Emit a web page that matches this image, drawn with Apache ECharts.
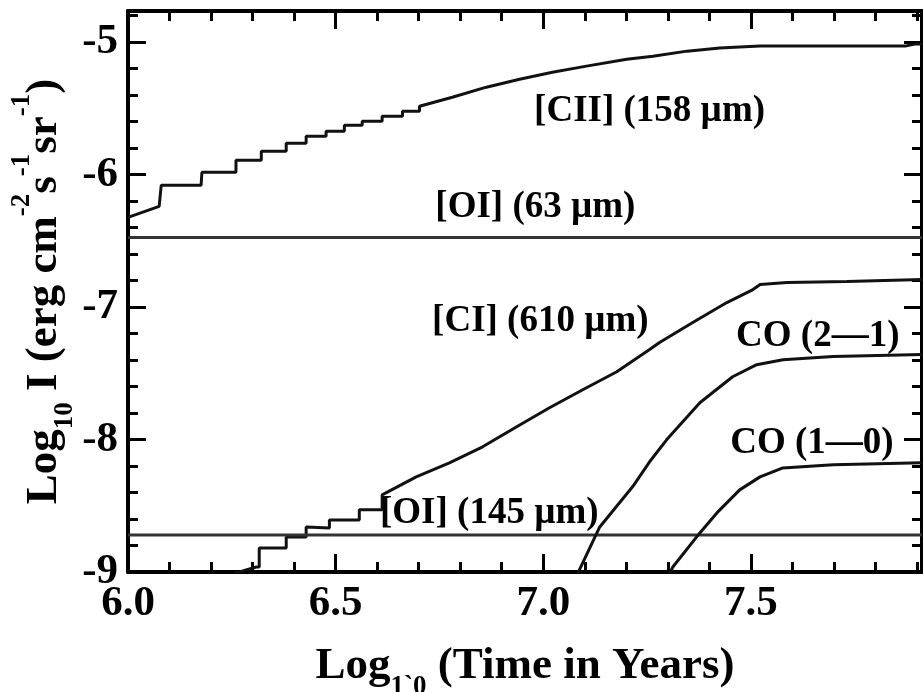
<!DOCTYPE html>
<html>
<head>
<meta charset="utf-8">
<script src="https://cdn.jsdelivr.net/npm/echarts@6/dist/echarts.min.js"></script>
<style>
  html, body { margin: 0; padding: 0; background: #fff; }
  #chart { width: 923px; height: 692px; }
</style>
</head>
<body>
<div id="chart"></div>
<script>
// series names, in drawing order
const lineNames = ['[CII] (158 µm)', '[OI] (63 µm)', '[CI] (610 µm)', '[OI] (145 µm)', 'CO (2—1)', 'CO (1—0)']

// log10 time (years) / log10 intensity
const ciiX = [6.0, 6.075, 6.080, 6.176, 6.178, 6.260, 6.260, 6.321, 6.321, 6.381, 6.381, 6.429, 6.429, 6.477, 6.477, 6.521, 6.521, 6.564, 6.564, 6.612, 6.612, 6.661, 6.661, 6.702, 6.702, 6.781, 6.863, 6.943, 7.022, 7.104, 7.201, 7.264, 7.346, 7.425, 7.522, 7.871, 7.895, 7.912]
const ciiY = [-6.323, -6.240, -6.081, -6.081, -5.983, -5.983, -5.892, -5.892, -5.824, -5.824, -5.764, -5.764, -5.711, -5.711, -5.673, -5.673, -5.628, -5.628, -5.597, -5.597, -5.560, -5.560, -5.522, -5.522, -5.484, -5.416, -5.340, -5.280, -5.227, -5.181, -5.129, -5.106, -5.068, -5.045, -5.030, -5.030, -5.015, -5.015]

const oi63X = [6.0, 7.912]
const oi63Y = [-6.474, -6.474]

const ciX = [6.256, 6.309, 6.316, 6.316, 6.381, 6.381, 6.429, 6.429, 6.485, 6.485, 6.557, 6.557, 6.612, 6.612, 6.694, 6.774, 6.854, 6.936, 7.015, 7.095, 7.177, 7.256, 7.280, 7.360, 7.442, 7.505, 7.522, 7.587, 7.731, 7.912]
const ciY = [-9.01, -8.962, -8.962, -8.819, -8.819, -8.735, -8.735, -8.660, -8.667, -8.607, -8.607, -8.531, -8.531, -8.418, -8.282, -8.176, -8.055, -7.904, -7.760, -7.624, -7.488, -7.321, -7.268, -7.117, -6.966, -6.868, -6.830, -6.815, -6.807, -6.792]

const oi145X = [6.0, 7.912]
const oi145Y = [-8.720, -8.720]

const co21X = [7.083, 7.136, 7.215, 7.256, 7.297, 7.377, 7.456, 7.514, 7.577, 7.698, 7.912]
const co21Y = [-9.01, -8.660, -8.357, -8.168, -8.002, -7.722, -7.526, -7.435, -7.397, -7.374, -7.359]

const co10X = [7.305, 7.312, 7.377, 7.418, 7.473, 7.522, 7.577, 7.698, 7.912]
const co10Y = [-9.01, -8.962, -8.705, -8.554, -8.380, -8.282, -8.214, -8.191, -8.176]

const xTicks = [6.0, 6.5, 7.0, 7.5]
const yTicks = [-9, -8, -7, -6, -5]

const FONT = '"Liberation Serif", "Times New Roman", serif'
const INK = '#000'

const chart = echarts.init(document.getElementById('chart'), null, { renderer: 'canvas', width: 923, height: 692 })

function zip(xs, ys) {
  return xs.map((x, i) => [x, ys[i]])
}

function curve(name, xs, ys, at, color) {
  return {
    name,
    type: 'line',
    data: zip(xs, ys),
    showSymbol: false,
    symbol: 'none',
    animation: false,
    lineStyle: { color: color || '#111', width: 3 },
    markPoint: {
      symbol: 'circle',
      symbolSize: 1,
      itemStyle: { color: 'rgba(0,0,0,0)' },
      label: {
        show: true,
        position: 'inside',
        formatter: name,
        fontFamily: FONT,
        fontWeight: 'bold',
        fontSize: 37,
        color: INK
      },
      data: [{ coord: at }]
    }
  }
}

const tickStyle = { inside: true, length: 18, lineStyle: { color: INK, width: 3 } }
const minorStyle = { show: true, splitNumber: 5, length: 10, lineStyle: { color: INK, width: 3 } }
const lineStyle = { show: true, onZero: false, lineStyle: { color: INK, width: 4 } }
const labelFont = { fontFamily: FONT, fontWeight: 'bold', fontSize: 43, color: INK }

const titleRich = {
  b: { fontFamily: FONT, fontWeight: 'bold', fontSize: 45, lineHeight: 70, color: INK, verticalAlign: 'middle' },
  sub: { fontFamily: FONT, fontWeight: 'bold', fontSize: 27, lineHeight: 27, color: INK, verticalAlign: 'bottom' },
  sup: { fontFamily: FONT, fontWeight: 'bold', fontSize: 27, lineHeight: 27, color: INK, verticalAlign: 'top' }
}

const near = (v, list) => list.some(t => Math.abs(t - v) < 1e-6)

chart.setOption({
  backgroundColor: '#fff',
  animation: false,
  grid: { left: 128, right: 1, top: 11, bottom: 120, containLabel: false, outerBoundsMode: 'none' },
  xAxis: [
    {
      type: 'value', position: 'bottom', min: 6, max: 7.912, interval: 0.5,
      axisLine: lineStyle, axisTick: tickStyle, minorTick: minorStyle,
      splitLine: { show: false }, minorSplitLine: { show: false },
      axisLabel: { ...labelFont, margin: 10, formatter: v => near(v, xTicks) ? v.toFixed(1) : '' },
      name: '{b|Log}{sub|1`0}{b| (Time in Years)}',
      nameLocation: 'middle', nameGap: 59, nameMoveOverlap: false,
      nameTextStyle: { rich: titleRich }
    },
    {
      type: 'value', position: 'top', min: 6, max: 7.912, interval: 0.5,
      axisLine: lineStyle, axisTick: tickStyle, minorTick: minorStyle,
      splitLine: { show: false }, axisLabel: { show: false }
    }
  ],
  yAxis: [
    {
      type: 'value', position: 'left', min: -9, max: -4.765, interval: 1,
      axisLine: lineStyle, axisTick: tickStyle, minorTick: minorStyle,
      splitLine: { show: false }, minorSplitLine: { show: false },
      axisLabel: { ...labelFont, margin: 10, formatter: v => near(v, yTicks) ? String(v) : '' },
      name: '{b|Log}{sub|10}{b| I (erg cm}{sup|-2}{b|s}{sup|-1}{b|sr}{sup|-1}{b|)}',
      nameLocation: 'middle', nameRotate: 90, nameGap: 49, nameMoveOverlap: false,
      nameTextStyle: { rich: titleRich }
    },
    {
      type: 'value', position: 'right', min: -9, max: -4.765, interval: 1,
      axisLine: lineStyle, axisTick: tickStyle, minorTick: minorStyle,
      splitLine: { show: false }, axisLabel: { show: false }
    }
  ],
  series: [
    curve(lineNames[0], ciiX, ciiY, [7.256, -5.522]),
    curve(lineNames[1], oi63X, oi63Y, [6.981, -6.248], '#333'),
    curve(lineNames[2], ciX, ciY, [6.993, -7.110]),
    curve(lineNames[3], oi145X, oi145Y, [6.870, -8.561], '#333'),
    curve(lineNames[4], co21X, co21Y, [7.661, -7.223]),
    curve(lineNames[5], co10X, co10Y, [7.647, -8.032])
  ]
})
</script>
</body>
</html>
